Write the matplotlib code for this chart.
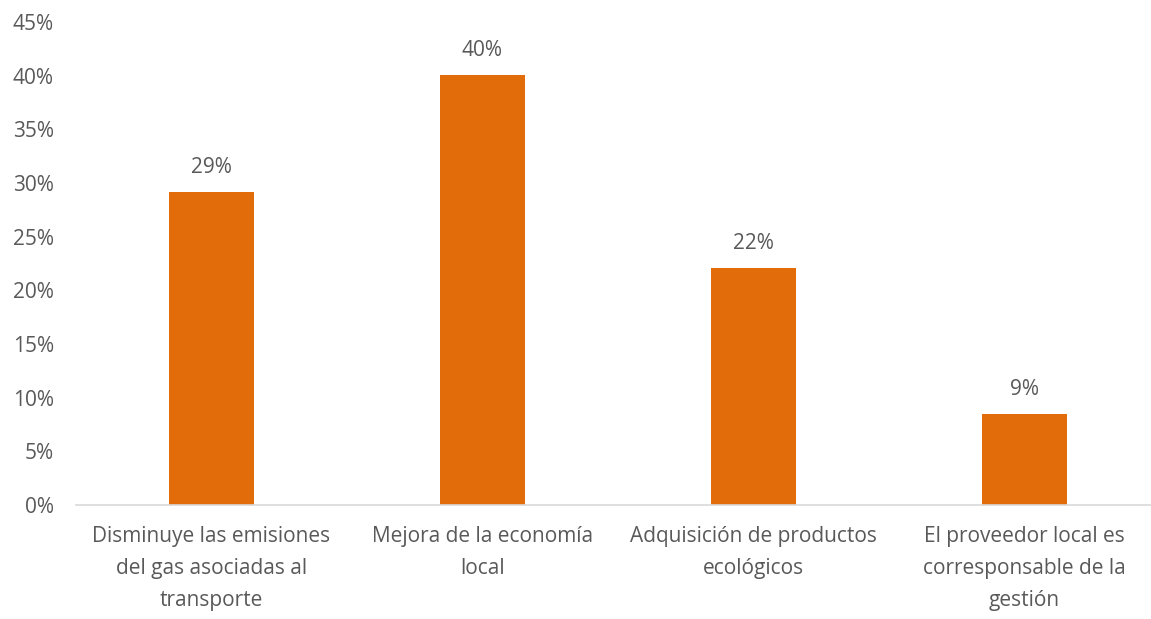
import matplotlib
matplotlib.use('Agg')
import matplotlib.pyplot as plt
from matplotlib import ticker

categories = [
    'Disminuye las emisiones\ndel gas asociadas al\ntransporte',
    'Mejora de la economía\nlocal',
    'Adquisición de productos\necológicos',
    'El proveedor local es\ncorresponsable de la\ngestión',
]
values = [0.292, 0.401, 0.221, 0.085]
labels = ['29%', '40%', '22%', '9%']

plt.rcParams['font.family'] = ['Open Sans', 'DejaVu Sans']
text_color = '#595959'
fs = 15

fig = plt.figure(figsize=(11.51, 6.19), dpi=100)
ax = fig.add_axes([76 / 1151, 1 - 505 / 619, 1084 / 1151, 483 / 619])

x = range(len(categories))
bars = ax.bar(x, values, width=0.314, color='#E36C0A')
for bar, lab in zip(bars, labels):
    ax.annotate(lab, (bar.get_x() + bar.get_width() / 2, bar.get_height()),
                xytext=(0, 10), textcoords='offset points',
                ha='center', va='bottom', fontsize=fs, color=text_color)

ax.set_xlim(-0.5, 3.5)
ax.set_ylim(0, 0.45)
ax.yaxis.set_major_locator(ticker.MultipleLocator(0.05))
ax.yaxis.set_major_formatter(ticker.FuncFormatter(lambda v, p: f'{v * 100:.0f}%'))
ax.set_xticks(list(x))
ax.set_xticklabels(categories, linespacing=1.7)

for s in ['top', 'right', 'left']:
    ax.spines[s].set_visible(False)
ax.spines['bottom'].set_color('#D9D9D9')
ax.spines['bottom'].set_linewidth(1.2)
ax.tick_params(axis='both', length=0, labelsize=fs, labelcolor=text_color)
ax.tick_params(axis='y', pad=16)
ax.tick_params(axis='x', pad=15)

fig.savefig('out.png', dpi=100)
